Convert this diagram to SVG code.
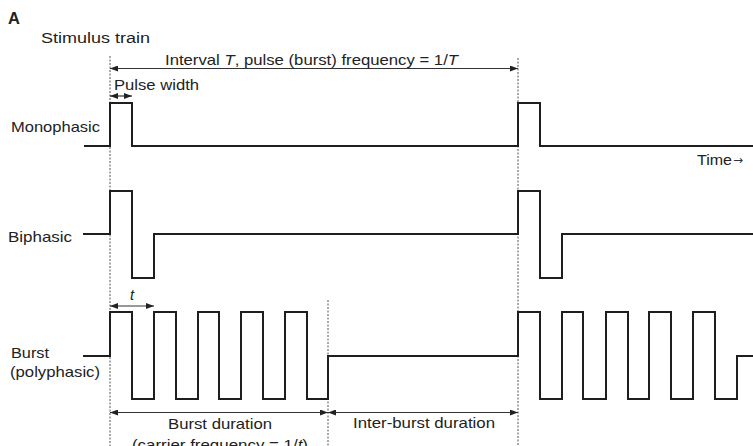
<svg xmlns="http://www.w3.org/2000/svg" width="753" height="446" viewBox="0 0 753 446">
  <style>
    .t { font-family: "Liberation Sans", Arial, sans-serif; font-size: 14.5px; fill: #222; }
    .wave { fill: none; stroke: #1e1e1e; stroke-width: 2; stroke-linejoin: miter; }
    .guide { fill: none; stroke: #555; stroke-width: 1; stroke-dasharray: 2 1.5; }
    .dim { fill: none; stroke: #333; stroke-width: 1.2; marker-start: url(#arrS); marker-end: url(#arrE); }
  </style>
  <defs>
    <marker id="arrE" viewBox="0 0 8 6" refX="8" refY="3" markerWidth="8" markerHeight="6" markerUnits="userSpaceOnUse" orient="auto">
      <path d="M0,0 L8,3 L0,6 Z" fill="#222"/>
    </marker>
    <marker id="arrS" viewBox="0 0 8 6" refX="0" refY="3" markerWidth="8" markerHeight="6" markerUnits="userSpaceOnUse" orient="auto">
      <path d="M8,0 L0,3 L8,6 Z" fill="#222"/>
    </marker>
  </defs>
  <rect width="753" height="446" fill="#ffffff"/>

  <g id="titles">
    <text class="t" x="8" y="24" style="font-weight:bold;font-size:16.5px">A</text>
    <text class="t" x="41" y="43" style="font-size:15.5px" textLength="109" lengthAdjust="spacingAndGlyphs">Stimulus train</text>
  </g>

  <g id="guides">
    <line class="guide" x1="110" y1="56" x2="110" y2="446"/>
    <line class="guide" x1="518" y1="58" x2="518" y2="446"/>
    <line class="guide" x1="328" y1="300" x2="328" y2="446"/>
  </g>

  <g id="monophasic">
    <text class="t" x="11" y="132" textLength="89" lengthAdjust="spacingAndGlyphs">Monophasic</text>
    <path class="wave" d="M84,146 H110 V103 H132 V146 H518 V103 H540 V146 H753"/>
    <text class="t" x="697" y="165" textLength="35" lengthAdjust="spacingAndGlyphs">Time</text>
    <text x="733" y="164" style="font-family:'DejaVu Sans',sans-serif;font-size:12px;fill:#333" textLength="10" lengthAdjust="spacingAndGlyphs">→</text>
  </g>

  <g id="biphasic">
    <text class="t" x="8" y="242" textLength="64" lengthAdjust="spacingAndGlyphs">Biphasic</text>
    <path class="wave" d="M83,234 H110 V191 H132 V278 H154 V234 H518 V191 H540 V278 H562 V234 H753"/>
  </g>

  <g id="burst">
    <text class="t" x="11" y="358" textLength="38" lengthAdjust="spacingAndGlyphs">Burst</text>
    <text class="t" x="10" y="377" textLength="90" lengthAdjust="spacingAndGlyphs">(polyphasic)</text>
    <path class="wave" d="M83,356 H110 V312 H132 V399 H154 V312 H176 V399 H198 V312 H219 V399 H241 V312 H263 V399 H285 V312 H307 V399 H328 V356 H518 V312 H540 V399 H562 V312 H583 V399 H606 V312 H628 V399 H649 V312 H671 V399 H693 V312 H715 V399 H737 V356 H753"/>
  </g>

  <g id="connectors">
    <line class="dim" x1="110" y1="68.5" x2="518" y2="68.5"/>
    <line class="dim" x1="110" y1="96" x2="132" y2="96"/>
    <line class="dim" x1="110" y1="306" x2="154" y2="306"/>
    <line class="dim" x1="110" y1="412.5" x2="328" y2="412.5"/>
    <line class="dim" x1="328" y1="412.5" x2="518" y2="412.5"/>
  </g>

  <g id="dimension-labels">
    <text class="t" x="165" y="65" textLength="293" lengthAdjust="spacingAndGlyphs">Interval <tspan font-style="italic">T</tspan>, pulse (burst) frequency = 1/<tspan font-style="italic">T</tspan></text>
    <text class="t" x="114" y="90" textLength="85" lengthAdjust="spacingAndGlyphs">Pulse width</text>
    <text class="t" x="130" y="300" style="font-style:italic">t</text>
    <text class="t" x="168" y="429" textLength="104" lengthAdjust="spacingAndGlyphs">Burst duration</text>
    <text class="t" x="132" y="450" textLength="176" lengthAdjust="spacingAndGlyphs">(carrier frequency = 1/<tspan font-style="italic">t</tspan>)</text>
    <text class="t" x="353" y="428" textLength="142" lengthAdjust="spacingAndGlyphs">Inter-burst duration</text>
  </g>
</svg>
